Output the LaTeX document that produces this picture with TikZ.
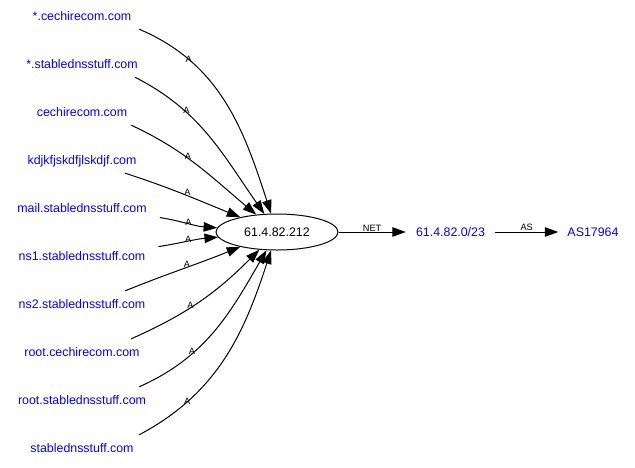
\documentclass[tikz,border=0pt]{standalone}
\usepackage{fontspec}
\setmainfont{Liberation Sans}
\usetikzlibrary{arrows.meta,positioning,shapes.geometric}

\begin{document}
\begin{tikzpicture}[
  node distance=48pt and 173.5pt, on grid,
  host/.style={text=blue, inner xsep=13pt, inner ysep=0pt, minimum height=26pt, text height=9pt, text depth=0pt, font=\fontsize{12.4}{14}\selectfont},
  hub/.style={draw, ellipse, line width=1pt, inner sep=0pt, minimum width=122pt, minimum height=36pt, text height=9pt, text depth=0pt, font=\fontsize{12.4}{14}\selectfont},
  net/.style={text=blue, inner xsep=10pt, text height=9pt, text depth=0pt, font=\fontsize{12.4}{14}\selectfont},
  lbl/.style={inner sep=0.5pt, font=\fontsize{9.2}{10}\selectfont},
  arrow/.style={-{Triangle[length=13.5pt,width=9.5pt]}, line width=1pt}
]
\useasboundingbox (0,0) rectangle (635pt,-467pt);

\node[host] (wcechire) at (82pt,-16pt) {*.cechirecom.com};
\node[host, below=of wcechire] (wstable) {*.stablednsstuff.com};
\node[host, below=of wstable] (cechire) {cechirecom.com};
\node[host, below=of cechire] (kdjk) {kdjkfjskdfjlskdjf.com};
\node[host, below=of kdjk] (mail) {mail.stablednsstuff.com};
\node[host, below=of mail] (ns1) {ns1.stablednsstuff.com};
\node[host, below=of ns1] (ns2) {ns2.stablednsstuff.com};
\node[host, below=of ns2] (rootcechire) {root.cechirecom.com};
\node[host, below=of rootcechire] (rootstable) {root.stablednsstuff.com};
\node[host, below=of rootstable] (stable) {stablednsstuff.com};
\node[hub, right=195pt of mail, yshift=-24pt] (ip) {61.4.82.212};
\node[net, right=of ip] (block) {61.4.82.0/23};
\node[net, right=142.5pt of block, inner xsep=9pt] (asn) {AS17964};

\draw[arrow] (wcechire.-13) to[out=-23, in=108] node[lbl, pos=0.24] {A} (ip);
\draw[arrow] (wstable.-14) to[out=-27, in=125] node[lbl, pos=0.32, yshift=2pt] {A} (ip);
\draw[arrow] (cechire.-15) to[out=-25, in=140] node[lbl, pos=0.42, yshift=2pt] {A} (ip);
\draw[arrow] (kdjk.-17) to[out=-18, in=158] node[lbl, pos=0.54, yshift=3pt] {A} (ip);
\draw[arrow] (mail.-7) to[out=-9, in=176] node[lbl, pos=0.5, yshift=1pt] {A} (ip);
\draw[arrow] (ns1.7) to[out=9, in=185] node[lbl, pos=0.5, yshift=2pt] {A} (ip);
\draw[arrow] (ns2.17) to[out=22, in=202] node[lbl, pos=0.54, yshift=3pt] {A} (ip);
\draw[arrow] (rootcechire.15) to[out=24, in=225] node[lbl, pos=0.42, yshift=2pt] {A} (ip);
\draw[arrow] (rootstable.13) to[out=24, in=240] node[lbl, pos=0.32, yshift=2pt] {A} (ip);
\draw[arrow] (stable.13) to[out=28, in=252] node[lbl, pos=0.24] {A} (ip);
\draw[arrow] (ip) -- node[lbl, above] {NET} (block);
\draw[arrow] (block) -- node[lbl, above] {AS} (asn);
\end{tikzpicture}
\end{document}
